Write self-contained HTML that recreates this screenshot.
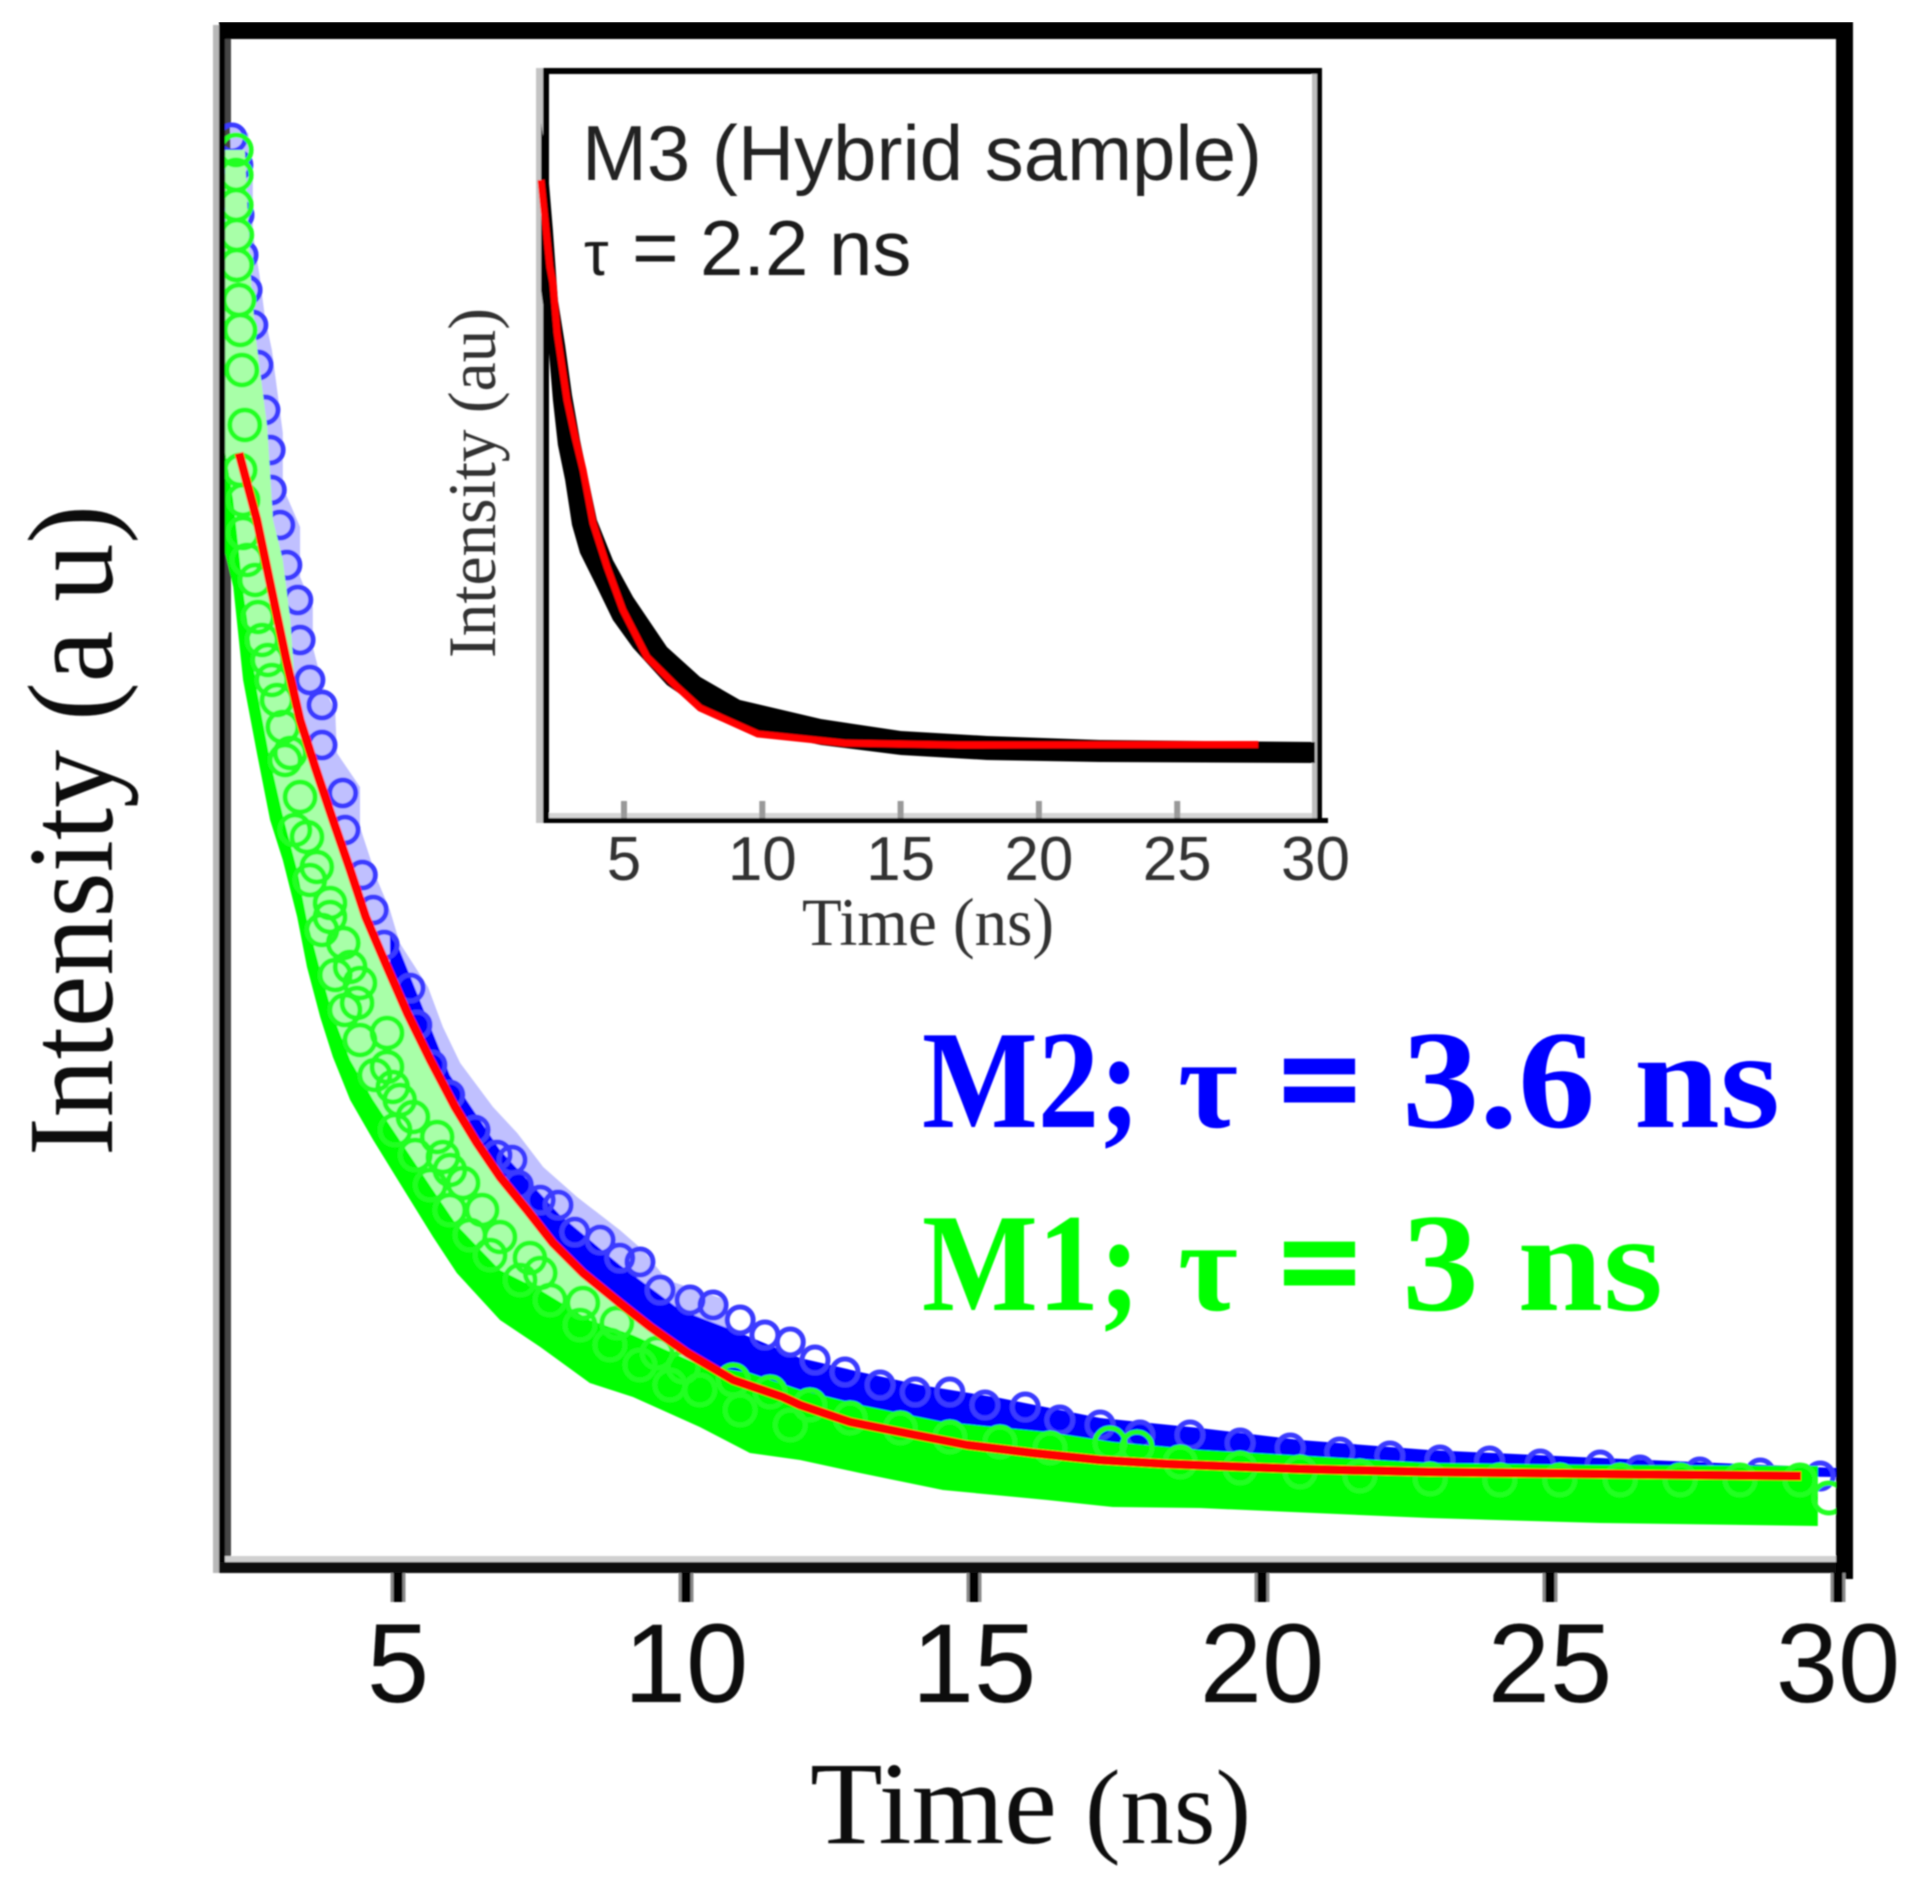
<!DOCTYPE html>
<html lang="en">
<head>
<meta charset="utf-8">
<title>Fluorescence decay chart</title>
<style>
html,body{margin:0;padding:0;background:#fff;}
body{width:1929px;height:1894px;overflow:hidden;}
svg{display:block;}
.sans{font-family:"Liberation Sans",sans-serif;}
.serif{font-family:"Liberation Serif",serif;}
</style>
</head>
<body>
<svg id="chart" xmlns="http://www.w3.org/2000/svg" width="1929" height="1894" viewBox="0 0 1929 1894">
  <defs>
    <clipPath id="plot-clip"><rect x="225" y="39" width="1611" height="1523"/></clipPath>
    <filter id="soft" x="0" y="0" width="100%" height="100%"><feGaussianBlur stdDeviation="0.9"/></filter>
  </defs>
  <g filter="url(#soft)">
    <g id="frame">
      <rect x="213" y="25" width="6" height="1548" fill="#b8b8b8"/>
      <rect x="225" y="39" width="6" height="1523" fill="#444"/>
      <rect x="225" y="1556" width="1611" height="6" fill="#d0d0d0"/>
    </g>
    <g id="main-marks" clip-path="url(#plot-clip)"></g>
    <g>
      <rect x="219" y="22" width="1634" height="17" fill="#000"/>
      <rect x="219" y="22" width="6" height="1551" fill="#000"/>
      <rect x="1836" y="22" width="17" height="1557" fill="#000"/>
      <rect x="219" y="1562" width="1617" height="11" fill="#111"/>
    </g>
    <g id="main-ticks"></g>

    <text class="serif" x="810" y="1843" font-size="118" textLength="247" lengthAdjust="spacingAndGlyphs" fill="#111">Time</text>
    <text class="serif" x="1085" y="1843" font-size="106" textLength="166" lengthAdjust="spacingAndGlyphs" fill="#111">(ns)</text>
    <text class="serif" transform="translate(112,1156) rotate(-90)" font-size="122" textLength="651" lengthAdjust="spacingAndGlyphs" fill="#111">Intensity (a u)</text>

    <g class="serif" font-weight="bold" fill="#0000ff">
      <text x="922" y="1127" font-size="140" textLength="218" lengthAdjust="spacingAndGlyphs">M2;</text>
      <text x="1178" y="1127" font-size="130">τ</text>
      <text x="1280" y="1127" font-size="140" stroke="#0000ff" stroke-width="6">=</text>
      <text x="1402" y="1127" font-size="140" textLength="378" lengthAdjust="spacingAndGlyphs">3.6 ns</text>
    </g>
    <g class="serif" font-weight="bold" fill="#00ff00">
      <text x="922" y="1310" font-size="140" textLength="218" lengthAdjust="spacingAndGlyphs">M1;</text>
      <text x="1178" y="1310" font-size="130">τ</text>
      <text x="1280" y="1310" font-size="140" stroke="#00ff00" stroke-width="6">=</text>
      <text x="1402" y="1310" font-size="140" textLength="261" lengthAdjust="spacingAndGlyphs">3 ns</text>
    </g>

    <g>
      <rect x="536" y="68" width="7" height="755" fill="#c4c4c4"/>
      <rect x="1312" y="74" width="5" height="744" fill="#bdbdbd"/>
      <rect x="543" y="813" width="769" height="5" fill="#d5d5d5"/>
    </g>
    <g id="inset-marks"></g>
    <g>
      <rect x="543" y="68" width="779" height="6" fill="#000"/>
      <rect x="543" y="68" width="6" height="755" fill="#000"/>
      <rect x="1317" y="68" width="5" height="755" fill="#000"/>
      <rect x="543" y="818" width="785" height="5" fill="#000"/>
    </g>
    <g id="inset-ticks"></g>
    <g id="inset-overlay"></g>

    <text class="sans" x="582" y="180" font-size="78" textLength="680" lengthAdjust="spacingAndGlyphs" fill="#222">M3 (Hybrid sample)</text>
    <g class="sans" fill="#1a1a1a">
      <text x="584" y="275" font-size="62">τ</text>
      <text x="632" y="275" font-size="80">=</text>
      <text x="700" y="275" font-size="78">2.2</text>
      <text x="829" y="275" font-size="78">ns</text>
    </g>
    <text class="serif" x="802" y="945" font-size="68" textLength="252" lengthAdjust="spacingAndGlyphs" fill="#333">Time (ns)</text>
    <text class="serif" transform="translate(495,658) rotate(-90)" font-size="68" textLength="350" lengthAdjust="spacingAndGlyphs" fill="#333">Intensity (au)</text>
  </g>
</svg>
<script>
// Main chart tick labels
const xTickValues = [5, 10, 15, 20, 25, 30];
const insetTickValues = [5, 10, 15, 20, 25, 30];

// M2 (blue) measured points: time in ns, intensity in a.u.
const m2Times = [2.12,2.22,2.24,2.31,2.38,2.48,2.57,2.69,2.78,2.80,2.95,3.07,3.26,3.30,3.47,3.68,3.68,4.04,4.08,4.38,4.57,4.76,5.21,5.33,5.59,5.90,6.34,6.72,6.98,7.09,7.47,7.78,8.07,8.51,8.85,9.20,9.55,10.07,10.47,10.94,11.37,11.81,12.24,12.76,13.37,13.98,14.58,15.19,15.89,16.49,17.19,17.88,18.75,19.62,20.49,21.35,22.22,23.09,23.95,24.83,25.87,26.56,27.60,28.65,29.69];
const m2Values = [142.4,139.7,134.7,130.7,127.2,123.7,119.7,115.2,111.2,107.2,103.7,99.7,96.2,92.2,88.2,85.7,81.7,76.9,73.2,68.7,65.2,61.7,57.4,53.7,49.7,46.7,43.2,40.7,40.2,37.7,36.2,35.7,33.0,32.2,30.4,30.0,27.2,26.2,25.7,24.2,22.7,22.0,20.2,19.0,17.7,17.0,17.0,15.7,15.5,14.2,13.7,12.7,12.7,11.9,11.4,11.0,10.6,10.2,10.1,9.8,9.7,9.2,9.0,8.9,8.6];

// M2 dense point cloud: upper and lower reading at each time
const m2CloudTimes = [4.86,5.03,5.90,6.77,7.81,8.85,9.90,10.94,11.98,13.02,14.06,15.45,17.19,18.92,20.66,22.90,25.87,29.97];
const m2CloudHigh = [62.7,61.2,48.7,41.2,34.7,29.7,25.2,22.9,20.4,19.0,17.7,16.4,14.4,13.4,12.2,11.2,10.4,9.4];
const m2CloudLow = [59.0,57.2,45.7,38.5,31.2,25.9,21.2,18.0,15.7,13.8,12.6,11.4,10.2,9.7,9.3,9.0,8.8,8.5];

// M2 outer edge of the scattered rings
const m2EdgeTimes = [2.08,2.40,2.48,2.48,2.60,2.69,2.81,3.00,3.00,3.30,3.30,3.52,3.52,3.70,3.91,3.94,4.34,4.34,4.64,4.86,5.03,5.52,5.78,6.08,6.65,7.07,7.52,8.11,8.85,9.25,9.67,10.71];
const m2EdgeValues = [143.9,142.9,138.2,132.9,128.5,124.5,121.2,112.9,107.5,103.5,98.5,95.5,91.5,87.5,85.2,80.9,77.5,73.5,68.2,65.2,61.9,57.5,53.5,49.9,45.5,42.9,39.5,36.5,33.2,31.2,28.2,26.2];

// M1 (green) measured points
const m1Times = [2.19,2.19,2.19,2.20,2.20,2.24,2.26,2.29,2.34,2.26,2.31,2.31,2.38,2.57,2.74,2.90,3.00,3.13,3.30,3.42,3.59,3.82,3.82,4.05,4.17,4.34,4.29,4.81,4.81,4.91,5.03,5.26,5.68,5.78,5.90,6.13,6.46,6.77,7.29,7.47,8.21,8.80,9.50,9.95,10.82,11.46,12.15,12.85,13.72,14.58,15.45,16.32,17.36,17.83,18.58,19.62,20.66,21.70,22.92,24.13,25.17,26.22,27.26,28.30,29.34,29.84,2.52,2.64,2.81,3.04,3.21,3.47,3.68,3.91,4.08,4.34,4.60,4.95,5.30,5.56,5.90,6.25,6.60,7.12,7.64,8.16,8.68,9.20,9.72,10.24,10.94,11.81];
const m1Values = [141.2,138.7,135.7,132.7,129.7,126.2,123.2,119.2,113.7,109.2,106.2,102.9,100.2,94.5,90.2,86.2,83.5,80.9,76.5,72.5,69.5,65.9,64.5,61.9,59.5,57.9,55.9,52.9,49.5,47.5,46.2,44.5,42.5,40.5,39.2,37.9,35.2,32.5,30.4,28.9,25.9,23.9,20.9,19.5,18.2,17.0,15.7,14.4,13.4,12.5,12.0,11.4,11.9,11.5,10.0,9.4,9.0,8.6,8.3,8.2,8.2,8.2,8.2,8.2,8.2,6.4,98.2,92.2,88.2,80.2,73.2,68.2,63.2,58.7,55.2,52.2,48.7,43.2,40.7,37.7,35.2,32.7,30.7,28.2,26.2,23.7,21.7,19.7,17.7,17.2,15.2,13.7];

// M1 dense point cloud: upper and lower reading at each time
const m1CloudTimes = [2.00,2.14,2.31,2.55,2.78,3.00,3.25,3.42,3.65,3.87,4.17,4.57,5.03,5.61,6.02,6.77,7.47,8.33,9.08,10.24,11.11,11.98,13.02,14.46,16.27,17.41,18.92,22.90,25.87,29.65];
const m1CloudHigh = [110.9,106.2,97.2,87.2,80.2,74.7,69.2,64.2,59.2,54.7,50.2,46.2,42.2,37.2,33.7,29.2,27.2,24.2,22.7,19.7,18.9,17.2,15.7,14.0,13.0,12.0,11.2,9.9,9.7,9.6];
const m1CloudLow = [100.9,97.5,88.2,80.9,74.2,70.2,64.5,59.5,54.5,50.5,46.2,42.2,37.9,32.5,28.9,24.2,21.5,17.9,16.5,13.5,10.9,10.2,8.9,7.2,6.2,5.5,5.4,4.4,3.9,3.6];

// M1 outer edge of the scattered rings near the start of the decay
const m1EdgeTimes = [2.00,2.34,2.43,2.52,2.73,2.83,3.00,3.13,3.23];
const m1EdgeValues = [141.2,141.2,129.5,122.9,113.5,104.2,100.2,94.2,86.2];

// Fit curve over M1 and M2
const fitTimes = [2.24,2.55,2.78,3.06,3.30,3.56,3.87,4.17,4.44,4.81,5.16,5.56,5.99,6.37,6.77,7.24,7.69,8.21,8.85,9.38,10.02,10.82,11.68,11.98,12.85,13.72,14.88,16.02,17.19,18.35,20.66,22.90,25.90,29.36];
const fitValues = [110.9,104.2,97.9,90.2,84.2,79.5,74.2,69.2,64.5,59.5,54.9,50.2,45.5,41.9,38.5,35.2,31.9,28.9,25.9,23.5,20.9,18.2,16.5,15.7,14.0,13.0,11.7,10.9,10.2,9.8,9.3,9.0,8.8,8.6];

// Inset M3 decay cloud
const m3Times = [2.00,2.25,2.43,2.61,2.87,3.12,3.41,4.02,4.60,5.33,6.55,7.75,9.19,12.12,15.01,18.12,22.20,29.98];
const m3High = [69.5,64.8,58.8,51.8,47.3,42.3,37.8,29.8,25.8,22.1,17.1,14.1,11.8,9.9,8.7,8.2,7.8,7.6];
const m3Low = [52.8,47.8,41.8,37.3,33.8,29.3,26.5,23.1,19.8,17.0,13.3,11.0,9.0,7.3,6.3,5.8,5.6,5.5];

// Inset fit curve
const m3FitTimes = [2.00,2.32,2.43,2.58,2.94,3.23,3.52,3.88,4.39,4.96,5.83,6.92,7.75,9.84,12.96,17.08,27.93];
const m3FitValues = [63.8,55.1,53.5,48.5,41.8,38.1,34.8,29.5,25.1,20.8,16.1,13.1,11.0,8.4,7.5,7.3,7.35];

const SVG_NS = 'http://www.w3.org/2000/svg';
function mainX(t) { return 110 + 57.6 * t; }
function mainY(v) { return 1562 - 10 * v; }
function insetX(t) { return 485.7 + 27.66 * t; }
function insetY(v) { return 818 - 10 * v; }

function pairList(ts, vs, fx, fy) {
  return ts.map(function (t, i) { return fx(t).toFixed(1) + ',' + fy(vs[i]).toFixed(1); });
}
function linePoints(ts, vs, fx, fy) {
  return pairList(ts, vs, fx, fy).join(' ');
}
function cloudPoints(ts, hi, lo, fx, fy) {
  return pairList(ts, hi, fx, fy).concat(pairList(ts, lo, fx, fy).reverse()).join(' ');
}
function rangePairs(ts, vs, from, to) {
  const out = [];
  ts.forEach(function (t, i) {
    if (t >= from && t <= to) { out.push(mainX(t).toFixed(1) + ',' + mainY(vs[i]).toFixed(1)); }
  });
  return out;
}

const mainMarks = document.getElementById('main-marks');
const insetMarks = document.getElementById('inset-marks');
const insetOverlay = document.getElementById('inset-overlay');
const mainTicks = document.getElementById('main-ticks');
const insetTicks = document.getElementById('inset-ticks');

const m2Haze = document.createElementNS(SVG_NS, 'polygon');


m2Haze.setAttribute('points', pairList(m2EdgeTimes, m2EdgeValues, mainX, mainY).concat(rangePairs(fitTimes, fitValues, 0, 10.82).reverse()).join(' '));
m2Haze.setAttribute('fill', '#c0c0ff');
mainMarks.appendChild(m2Haze);

const m2Cloud = document.createElementNS(SVG_NS, 'polygon');


m2Cloud.setAttribute('points', cloudPoints(m2CloudTimes, m2CloudHigh, m2CloudLow, mainX, mainY));
m2Cloud.setAttribute('fill', '#0000ff');
mainMarks.appendChild(m2Cloud);

m2Times.forEach(function (t, i) {
  const el = document.createElementNS(SVG_NS, 'circle');
  
  
  el.setAttribute('cx', mainX(t));
  el.setAttribute('cy', mainY(m2Values[i]));
  el.setAttribute('r', 13);
  el.setAttribute('fill', 'none');
  el.setAttribute('stroke', '#3a3aff');
  el.setAttribute('stroke-width', 5);
  mainMarks.appendChild(el);
});

const m1Haze = document.createElementNS(SVG_NS, 'polygon');


m1Haze.setAttribute('points', pairList(m1EdgeTimes, m1EdgeValues, mainX, mainY).concat(rangePairs(fitTimes, fitValues, 3.3, 13.72)).concat(rangePairs(m1CloudTimes, m1CloudHigh, 0, 13.02).reverse()).join(' '));
m1Haze.setAttribute('fill', '#a8ffa8');
mainMarks.appendChild(m1Haze);

const m1Cloud = document.createElementNS(SVG_NS, 'polygon');


m1Cloud.setAttribute('points', cloudPoints(m1CloudTimes, m1CloudHigh, m1CloudLow, mainX, mainY));
m1Cloud.setAttribute('fill', '#00ff00');
mainMarks.appendChild(m1Cloud);

m1Times.forEach(function (t, i) {
  const el = document.createElementNS(SVG_NS, 'circle');
  
  
  el.setAttribute('cx', mainX(t));
  el.setAttribute('cy', mainY(m1Values[i]));
  el.setAttribute('r', 15);
  el.setAttribute('fill', 'none');
  el.setAttribute('stroke', '#22ff22');
  el.setAttribute('stroke-width', 5);
  mainMarks.appendChild(el);
});

const fitLine = document.createElementNS(SVG_NS, 'polyline');


fitLine.setAttribute('points', linePoints(fitTimes, fitValues, mainX, mainY));
fitLine.setAttribute('fill', 'none');
fitLine.setAttribute('stroke', '#ff0000');
fitLine.setAttribute('stroke-width', 9);
fitLine.setAttribute('stroke-linejoin', 'round');
mainMarks.appendChild(fitLine);

const m3Cloud = document.createElementNS(SVG_NS, 'polygon');


m3Cloud.setAttribute('points', cloudPoints(m3Times, m3High, m3Low, insetX, insetY));
m3Cloud.setAttribute('fill', '#000');
insetMarks.appendChild(m3Cloud);

const m3Fit = document.createElementNS(SVG_NS, 'polyline');


m3Fit.setAttribute('points', linePoints(m3FitTimes, m3FitValues, insetX, insetY));
m3Fit.setAttribute('fill', 'none');
m3Fit.setAttribute('stroke', '#ff0000');
m3Fit.setAttribute('stroke-width', 7);
m3Fit.setAttribute('stroke-linejoin', 'round');
insetOverlay.appendChild(m3Fit);

xTickValues.forEach(function (t) {
  const halo = document.createElementNS(SVG_NS, 'line');
  
  
  halo.setAttribute('x1', mainX(t));
  halo.setAttribute('x2', mainX(t));
  halo.setAttribute('y1', 1573);
  halo.setAttribute('y2', 1602);
  halo.setAttribute('stroke', '#888');
  halo.setAttribute('stroke-width', 15);
  mainTicks.appendChild(halo);

  const tick = document.createElementNS(SVG_NS, 'line');
  
  
  tick.setAttribute('x1', mainX(t));
  tick.setAttribute('x2', mainX(t));
  tick.setAttribute('y1', 1573);
  tick.setAttribute('y2', 1602);
  tick.setAttribute('stroke', '#000');
  tick.setAttribute('stroke-width', 9);
  mainTicks.appendChild(tick);

  const label = document.createElementNS(SVG_NS, 'text');
  
  
  label.setAttribute('x', mainX(t));
  label.setAttribute('y', 1702);
  label.setAttribute('text-anchor', 'middle');
  label.setAttribute('font-family', '"Liberation Sans", sans-serif');
  label.setAttribute('font-size', 112);
  label.setAttribute('fill', '#111');
  label.textContent = String(t);
  mainTicks.appendChild(label);
});

insetTickValues.forEach(function (t) {
  if (t < 30) {
    const tick = document.createElementNS(SVG_NS, 'line');
    
    
    tick.setAttribute('x1', insetX(t));
    tick.setAttribute('x2', insetX(t));
    tick.setAttribute('y1', 801);
    tick.setAttribute('y2', 818);
    tick.setAttribute('stroke', '#999');
    tick.setAttribute('stroke-width', 6);
    insetTicks.appendChild(tick);
  }

  const label = document.createElementNS(SVG_NS, 'text');
  
  
  label.setAttribute('x', insetX(t));
  label.setAttribute('y', 880);
  label.setAttribute('text-anchor', 'middle');
  label.setAttribute('font-family', '"Liberation Sans", sans-serif');
  label.setAttribute('font-size', 62);
  label.setAttribute('fill', '#333');
  label.textContent = String(t);
  insetTicks.appendChild(label);
});
</script>
</body>
</html>
